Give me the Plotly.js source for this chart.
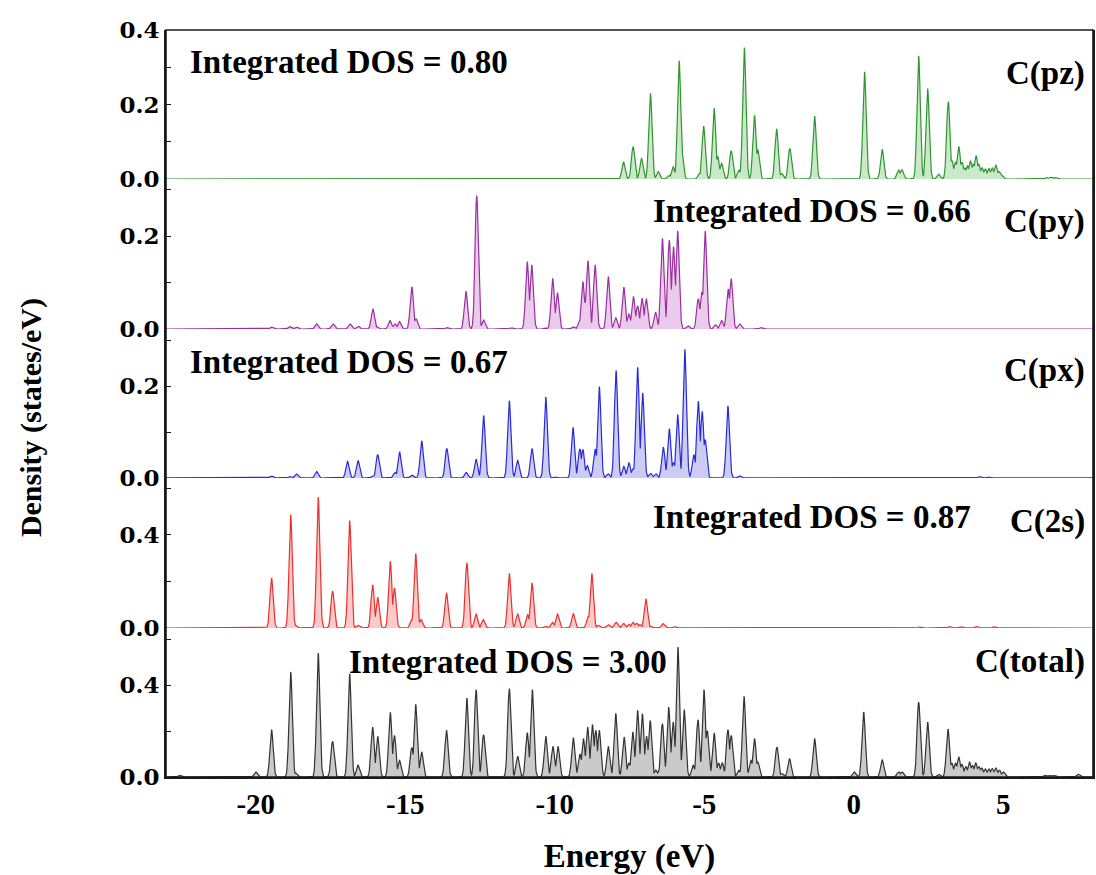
<!DOCTYPE html>
<html><head><meta charset="utf-8">
<script src="https://cdn.plot.ly/plotly-3.0.1.min.js"></script>
<style>html,body{margin:0;padding:0;background:#fff}#chart{width:1096px;height:875px}</style>
</head><body><div id="chart"></div>
<script>
// ---- Data (peak energies in eV, peak heights in states/eV) ----
const pzPeakEnergy = [-7.70,-7.38,-7.10,-6.80,-6.54,-6.18,-6.04,-5.84,-5.76,-5.16,-5.02,-4.67,-4.55,-4.42,-4.10,-3.84,-3.66,-3.32,-3.21,-2.58,-2.41,-2.14,-1.31,0.36,0.95,1.50,1.61,2.17,2.47,2.84,3.16,3.28,3.40,3.51,3.62,3.71,3.80,3.90,4.00,4.09,4.18,4.29,4.40,4.52,4.63,4.75,4.86,4.95,6.45,6.60,6.75];
const pzPeakHeight = [0.046,0.087,0.056,0.230,0.020,0.010,0.033,0.318,0.080,0.015,0.142,0.190,0.060,0.042,0.076,0.024,0.353,0.171,0.078,0.135,0.015,0.082,0.169,0.288,0.080,0.024,0.025,0.330,0.243,0.013,0.208,0.050,0.045,0.087,0.045,0.030,0.035,0.049,0.040,0.063,0.040,0.030,0.027,0.028,0.030,0.037,0.020,0.010,0.004,0.005,0.004];

const pyPeakEnergy = [-19.47,-18.86,-18.64,-17.96,-17.42,-16.85,-16.58,-16.08,-15.95,-15.51,-15.34,-15.19,-14.78,-14.64,-13.60,-12.97,-12.61,-12.38,-11.50,-11.40,-10.92,-10.77,-10.30,-10.07,-9.91,-9.38,-9.16,-9.06,-8.97,-8.89,-8.65,-8.21,-7.96,-7.69,-7.52,-7.37,-7.23,-7.08,-6.94,-6.63,-6.40,-6.17,-6.03,-5.89,-5.55,-5.20,-5.08,-4.97,-4.62,-4.42,-4.20,-4.10,-3.82,-3.10];
const pyPeakHeight = [0.004,0.005,0.004,0.011,0.011,0.011,0.006,0.043,0.005,0.018,0.011,0.016,0.091,0.022,0.003,0.081,0.287,0.019,0.002,0.002,0.145,0.138,0.002,0.109,0.078,0.005,0.018,0.102,0.060,0.147,0.138,0.113,0.024,0.090,0.032,0.070,0.050,0.066,0.065,0.036,0.195,0.191,0.177,0.211,0.007,0.065,0.080,0.211,0.009,0.018,0.086,0.108,0.011,0.003];

const pxPeakEnergy = [-19.47,-18.86,-18.64,-17.96,-16.93,-16.58,-16.08,-15.92,-15.34,-15.19,-14.78,-14.45,-13.61,-12.96,-12.63,-12.38,-11.52,-11.24,-10.76,-10.30,-10.00,-9.39,-9.16,-9.06,-8.91,-8.65,-8.51,-8.21,-7.95,-7.69,-7.52,-7.38,-7.23,-7.06,-6.80,-6.62,-6.37,-6.17,-6.03,-5.89,-5.78,-5.65,-5.35,-5.20,-5.07,-4.97,-4.21,-3.82,4.20,4.50];
const pxPeakHeight = [0.004,0.003,0.009,0.014,0.036,0.038,0.005,0.051,0.012,0.057,0.006,0.081,0.064,0.012,0.041,0.136,0.168,0.038,0.064,0.176,0.003,0.110,0.063,0.062,0.027,0.063,0.199,0.009,0.234,0.025,0.033,0.020,0.241,0.185,0.010,0.009,0.067,0.107,0.033,0.138,0.020,0.280,0.051,0.167,0.145,0.083,0.157,0.005,0.003,0.003];

const s2PeakEnergy = [-19.47,-18.83,-18.66,-17.91,-17.43,-16.86,-16.58,-16.09,-15.92,-15.50,-15.36,-14.78,-14.65,-14.47,-13.62,-12.94,-12.63,-12.39,-11.52,-11.24,-10.91,-10.76,-10.30,-10.08,-9.91,-9.38,-8.88,-8.76,-8.55,-8.21,-7.95,-7.70,-7.52,-7.38,-7.26,-7.15,-6.95,-6.80,-6.38,-6.00,2.20,3.20,3.60,4.10,4.70];
const s2PeakHeight = [0.215,0.487,0.011,0.563,0.158,0.462,0.011,0.186,0.132,0.287,0.172,0.036,0.320,0.036,0.151,0.280,0.060,0.036,0.234,0.060,0.057,0.194,0.006,0.024,0.060,0.062,0.050,0.234,0.011,0.014,0.024,0.020,0.015,0.024,0.020,0.014,0.125,0.008,0.019,0.006,0.004,0.006,0.005,0.006,0.005];

const totalPeakEnergy = [-22.54,-20.00,-19.47,-18.83,-18.66,-17.91,-17.43,-16.86,-16.58,-16.09,-15.92,-15.50,-15.36,-15.19,-14.78,-14.65,-14.45,-13.62,-12.94,-12.63,-12.38,-11.52,-11.24,-10.92,-10.75,-10.30,-10.06,-9.89,-9.38,-9.16,-9.04,-8.90,-8.74,-8.63,-8.51,-8.21,-7.96,-7.68,-7.52,-7.39,-7.23,-7.07,-6.93,-6.81,-6.62,-6.50,-6.40,-6.19,-6.04,-5.88,-5.67,-5.37,-5.21,-5.01,-4.90,-4.67,-4.52,-4.40,-4.21,-4.10,-3.84,-3.67,-3.44,-3.32,-3.21,-2.57,-2.41,-2.15,-1.31,0.01,0.33,0.95,1.50,1.61,2.17,2.47,2.84,3.15,3.28,3.40,3.51,3.62,3.75,3.87,3.97,4.08,4.18,4.28,4.40,4.52,4.63,4.75,4.87,5.00,6.40,6.55,6.70,7.51];
const totalPeakHeight = [0.007,0.022,0.206,0.457,0.017,0.539,0.155,0.449,0.051,0.217,0.177,0.281,0.181,0.072,0.128,0.316,0.109,0.203,0.343,0.380,0.184,0.384,0.090,0.193,0.380,0.177,0.133,0.133,0.171,0.100,0.167,0.217,0.228,0.203,0.203,0.133,0.277,0.174,0.060,0.196,0.290,0.275,0.177,0.246,0.030,0.030,0.232,0.304,0.239,0.565,0.293,0.051,0.249,0.380,0.200,0.191,0.060,0.061,0.206,0.181,0.029,0.351,0.072,0.167,0.065,0.130,0.015,0.080,0.167,0.022,0.283,0.075,0.022,0.022,0.326,0.239,0.012,0.209,0.060,0.060,0.087,0.055,0.045,0.065,0.050,0.061,0.045,0.039,0.035,0.035,0.037,0.039,0.030,0.022,0.007,0.007,0.007,0.012];

const panelLabels = ["C(pz)","C(py)","C(px)","C(2s)","C(total)"];
const integratedLabels = ["Integrated DOS = 0.80","Integrated DOS = 0.66","Integrated DOS = 0.67","Integrated DOS = 0.87","Integrated DOS = 3.00"];
const xTickValues = [-20,-15,-10,-5,0,5];
const xTickLabels = ["-20","-15","-10","-5","0","5"];
const yTickValuesSmall = [0,0.1,0.2,0.3,0.4];
const yTickLabelsSmall = ["0.0","","0.2","","0.4"];
const yTickValuesLarge = [0,0.2,0.4,0.6];
const yTickLabelsLarge = ["0.0","","0.4",""];

// ---- Rendering ----
const energyMin = -23, energyMax = 8, gridPoints = 3101, sigma = 0.055;
const energyGrid = [];
for (let i = 0; i < gridPoints; i++) energyGrid.push(Math.round((energyMin + i * (energyMax - energyMin) / (gridPoints - 1)) * 1000) / 1000);

function broadenedCurve(energies, heights) {
  return energyGrid.map(e => {
    let m = 0;
    for (let k = 0; k < energies.length; k++) {
      const d = e - energies[k];
      if (Math.abs(d) < 0.4) {
        const v = heights[k] * Math.exp(-d * d / (2 * sigma * sigma));
        if (v > m) m = v;
      }
    }
    return m;
  });
}

const series = [
  {E: pzPeakEnergy, H: pzPeakHeight, line: '#2f962f', fill: '#cbe8cb', axis: 'y'},
  {E: pyPeakEnergy, H: pyPeakHeight, line: '#9a2f9f', fill: '#ebcbeb', axis: 'y2'},
  {E: pxPeakEnergy, H: pxPeakHeight, line: '#2a2ad8', fill: '#cbcbf3', axis: 'y3'},
  {E: s2PeakEnergy, H: s2PeakHeight, line: '#ee2e2e', fill: '#f8caca', axis: 'y4'},
  {E: totalPeakEnergy, H: totalPeakHeight, line: '#333333', fill: '#cacaca', axis: 'y5'}
];

const traces = series.map((s, i) => ({
  x: energyGrid, y: broadenedCurve(s.E, s.H), xaxis: 'x', yaxis: s.axis,
  type: 'scatter', mode: 'lines', line: {color: s.line, width: 1.2},
  fill: 'tozeroy', fillcolor: s.fill, hoverinfo: 'skip', showlegend: false, name: panelLabels[i]
}));

const frameColor = '#1a1a1a';
const yTickFont = {family: 'DejaVu Serif', size: 23, color: '#000'};
const bold = t => (t === '' ? '' : '<b>' + t + '</b>');
function yAxis(domain, range, tv, tt) {
  return {
    domain: domain, range: range, tickmode: 'array', tickvals: tv, ticktext: tt.map(bold),
    showline: true, linecolor: frameColor, linewidth: 1.6, mirror: true,
    ticks: 'inside', ticklen: 5, tickwidth: 1.4, tickcolor: frameColor,
    showgrid: false, zeroline: false, tickfont: yTickFont, anchor: 'x'
  };
}

const textStyle = {family: 'Liberation Serif', size: 33, color: '#000'};
const labelY = [0.9424, 0.7430, 0.5448, 0.3427, 0.1540];
const intX = [0.0237, 0.5237, 0.0237, 0.5237, 0.1950];
const intY = [0.9570, 0.7577, 0.5556, 0.3480, 0.1540];
const annotations = [];
for (let i = 0; i < 5; i++) {
  annotations.push({xref: 'paper', yref: 'paper', x: intX[i], y: intY[i], xanchor: 'left', yanchor: 'middle', text: bold(integratedLabels[i]), showarrow: false, font: textStyle});
  annotations.push({xref: 'paper', yref: 'paper', x: 0.9935, y: labelY[i], xanchor: 'right', yanchor: 'middle', text: bold(panelLabels[i]), showarrow: false, font: textStyle});
}
annotations.push({xref: 'paper', yref: 'paper', x: -0.1455, y: 0.4806, xanchor: 'center', yanchor: 'middle', textangle: -90, text: bold('Density (states/eV)'), showarrow: false, font: {family: 'Liberation Serif', size: 30, color: '#000'}});

const layout = {
  width: 1096, height: 875, margin: {l: 166, r: 3, t: 30, b: 98},
  paper_bgcolor: '#ffffff', plot_bgcolor: 'rgba(0,0,0,0)', showlegend: false,
  font: {family: 'Liberation Serif', color: '#000'},
  xaxis: {
    domain: [0, 1], anchor: 'y5', range: [energyMin, energyMax], tickmode: 'array', tickvals: xTickValues, ticktext: xTickLabels.map(bold),
    ticks: '', showline: true, linecolor: frameColor, linewidth: 1.6, showgrid: false, zeroline: false,
    tickfont: {family: 'Liberation Serif', size: 29, color: '#000'},
    title: {text: bold('Energy (eV)'), font: {family: 'Liberation Serif', size: 33, color: '#000'}, standoff: 30}
  },
  yaxis: yAxis([0.8005, 1], [0, 0.4], yTickValuesSmall, yTickLabelsSmall),
  yaxis2: yAxis([0.5997, 0.8005], [0, 0.3226], yTickValuesSmall, yTickLabelsSmall),
  yaxis3: yAxis([0.4003, 0.5997], [0, 0.324], yTickValuesSmall, yTickLabelsSmall),
  yaxis4: yAxis([0.1995, 0.4003], [0, 0.645], yTickValuesLarge, yTickLabelsLarge),
  yaxis5: yAxis([0, 0.1995], [0, 0.648], yTickValuesLarge, yTickLabelsLarge),
  shapes: [{type: 'rect', xref: 'paper', yref: 'paper', x0: 0, x1: 1, y0: 0, y1: 1, line: {color: frameColor, width: 1.6}}],
  annotations: annotations
};

Plotly.newPlot('chart', traces, layout, {displayModeBar: false});
</script>
</body></html>
